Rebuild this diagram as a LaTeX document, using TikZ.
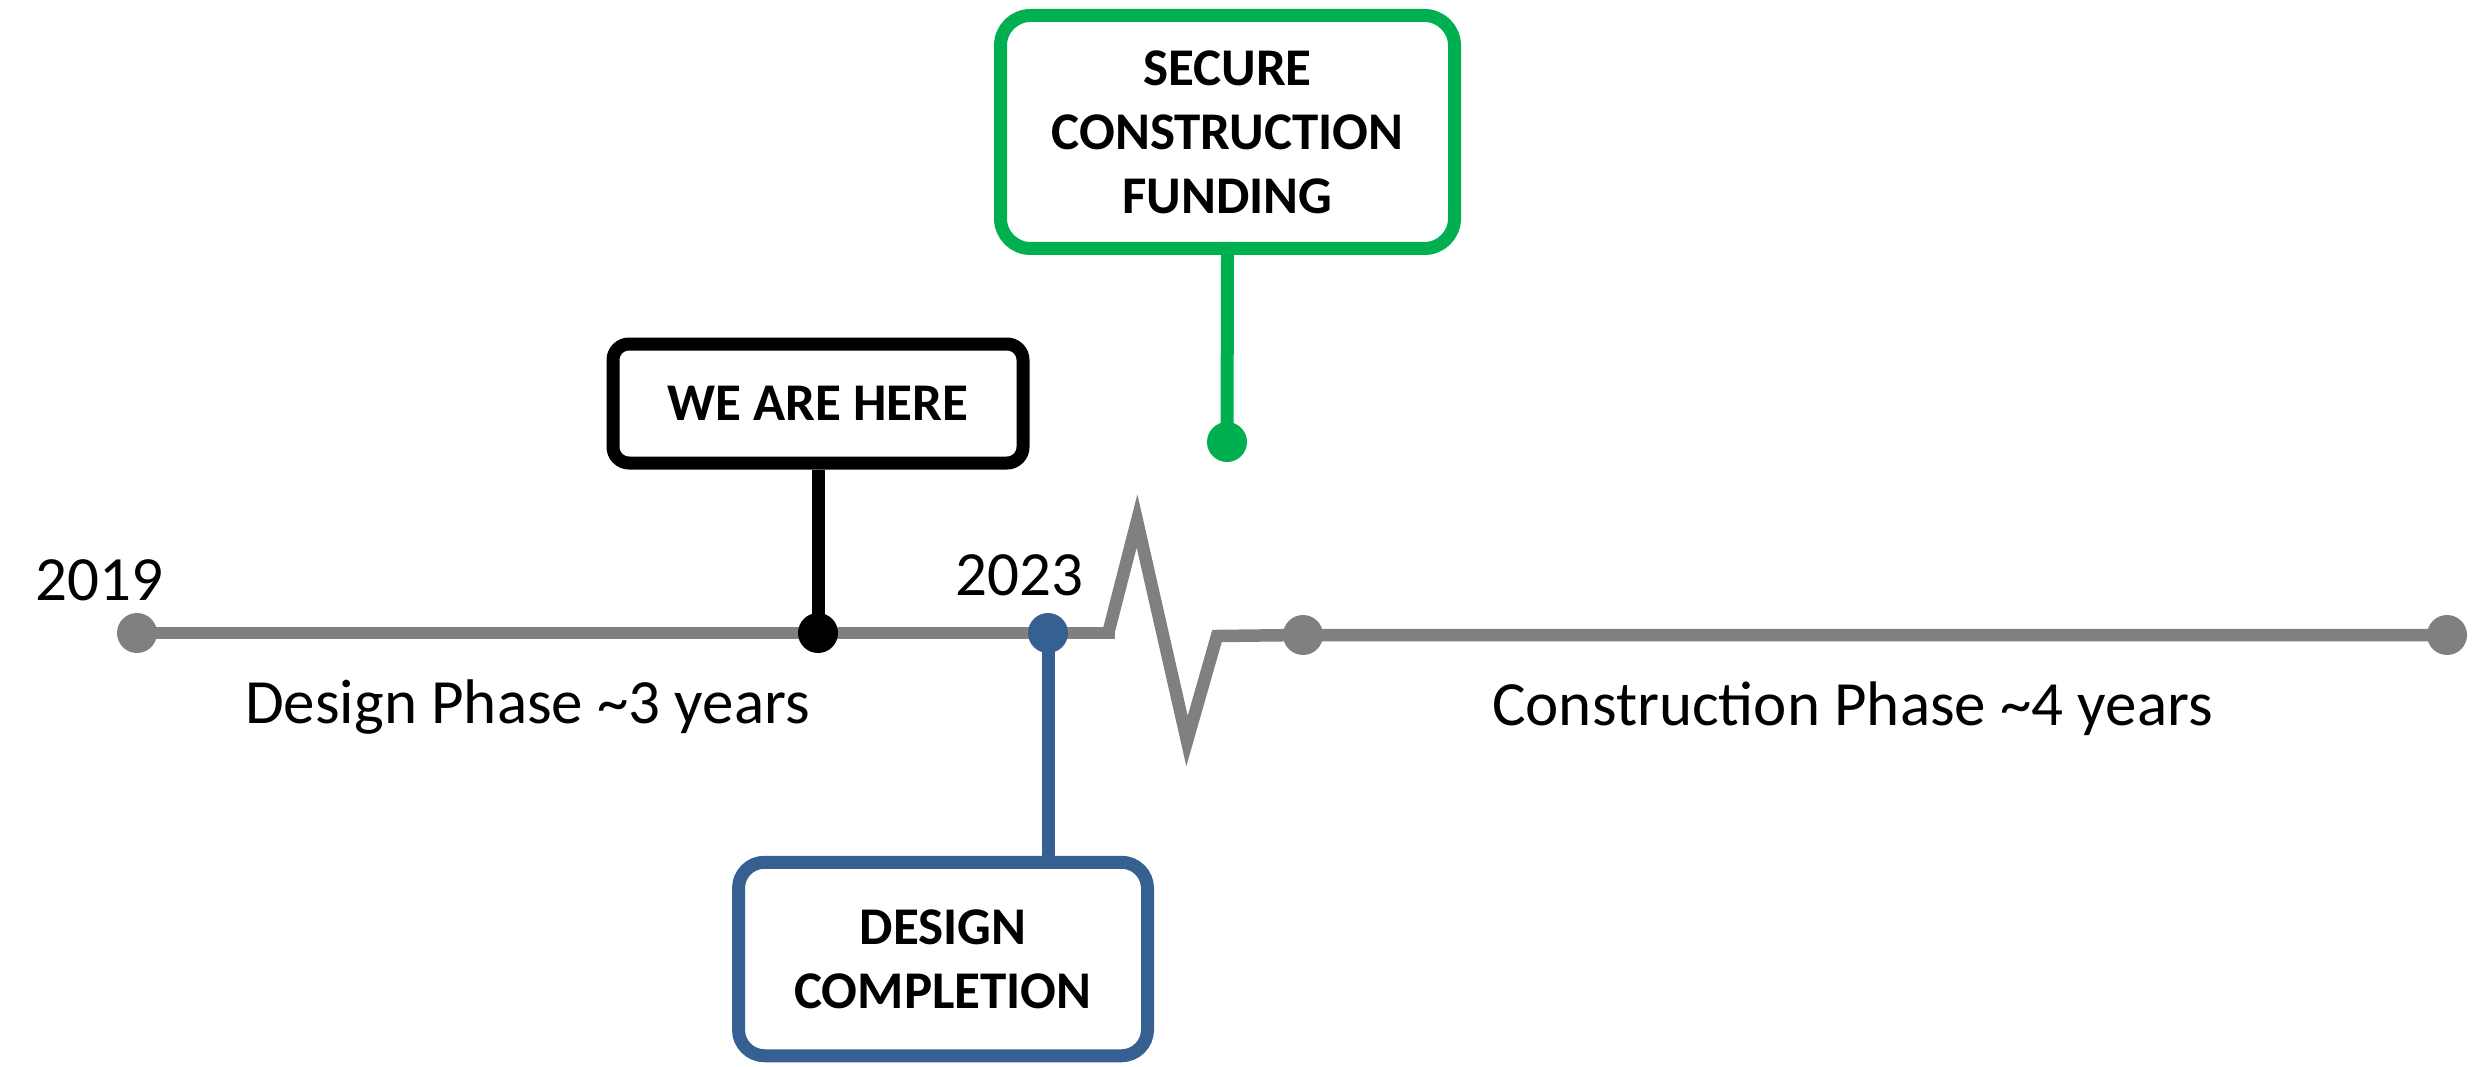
\documentclass[tikz,border=0pt]{standalone}
\usepackage{fontspec}
\setmainfont{Carlito}
\usetikzlibrary{backgrounds}
\definecolor{tlgray}{HTML}{808080}
\definecolor{tlgreen}{HTML}{00B050}
\definecolor{tlblue}{HTML}{376092}
\begin{document}
\begin{tikzpicture}[x=1pt,y=-1pt,
  dot/.style={circle,fill=#1,inner sep=0pt,minimum size=40pt},
  tlline/.style={draw=tlgray,line width=12.5pt},
  stem/.style={draw=#1,line width=13pt},
  milebox/.style={draw=#1,line width=13pt,fill=white,align=center,inner sep=0pt,
    font={\fontsize{53}{64}\selectfont\bfseries}},
  yearlbl/.style={anchor=base west,inner sep=0pt,font={\fontsize{63}{75}\selectfont}}
]
\useasboundingbox (0,0) rectangle (2481,1067);
% dots
\node[dot=tlgray] (d2019) at (137,633) {};
\node[dot=black] (dHere) at (818,633) {};
\node[dot=tlblue] (d2023) at (1048,633) {};
\node[dot=tlgray] (dCon) at (1303,635) {};
\node[dot=tlgray] (dEnd) at (2447,635) {};
\node[dot=tlgreen] (dFund) at (1227,442) {};
\coordinate (zA) at (1115,633);
\coordinate (z0) at (1108,634);
\coordinate (z1) at (1137,521);
\coordinate (z2) at (1187,741);
\coordinate (z3) at (1217,636);
% boxes
\node[milebox=black,minimum width=410pt,minimum height=119pt,rounded corners=16pt] (hereBox) at (818,403.5) {WE ARE HERE};
\node[milebox=tlgreen,minimum width=454pt,minimum height=233pt,rounded corners=30pt] (fundBox) at (1227.5,132) {SECURE\\CONSTRUCTION\\FUNDING};
\node[milebox=tlblue,minimum width=409pt,minimum height=193.5pt,rounded corners=26pt] (designBox) at (943,959) {DESIGN\\COMPLETION};
% timeline and stems behind the dots
\begin{scope}[on background layer]
\path[tlline] (d2019.center) -- (dHere.center) -- (d2023.center) -- (zA);
\path[tlline,line join=miter] (z0) -- (z1) -- (z2) -- (z3) -- (dCon.center) -- (dEnd.center);
\path[stem=black] (hereBox.south) -- (dHere.center);
\path[stem=tlgreen] (fundBox.south) -- (dFund.center);
\path[stem=tlblue] (d2023.center) -- (d2023 |- designBox.north);
\end{scope}
% labels
\node[yearlbl] (y2019) at (35,600) {2019};
\node[yearlbl] (y2023) at (955,595) {2023};
\node[yearlbl] (phaseD) at (245,723) {Design Phase \textasciitilde3 years};
\node[yearlbl] (phaseC) at (1492,725) {Construction Phase \textasciitilde4 years};
\end{tikzpicture}
\end{document}
